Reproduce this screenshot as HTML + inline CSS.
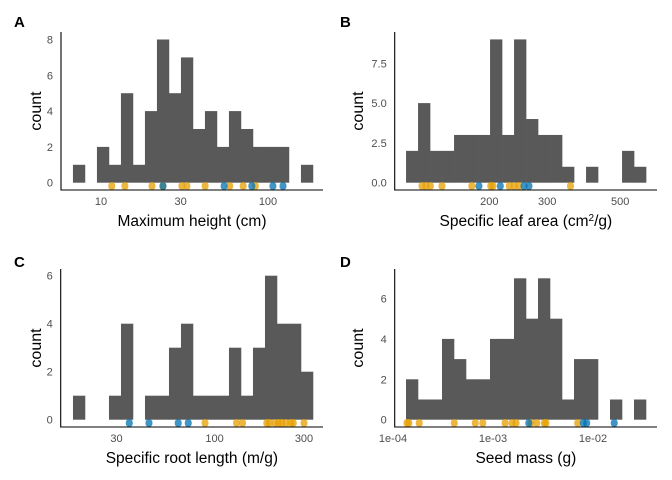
<!DOCTYPE html>
<html><head><meta charset="utf-8"><style>
body{margin:0;background:#fff}
svg{display:block;font-family:"Liberation Sans",sans-serif}
</style></head><body>
<svg id="fig" width="672" height="480" viewBox="0 0 672 480"></svg>
<script>
// Panel A: Maximum height
const countsA=[1,0,2,1,5,1,4,8,5,7,3,4,2,4,3,2,2,2,0,1];
const rugOrangeA=[11.6,13.9,20.2,23.5,30.5,32.7,42,59,71,84];
const rugBlueA=[23.5,54.6,80,107,123];
const yTicksA=[0,2,4,6,8];
const xTicksA=[10,30,100];
// Panel B: Specific leaf area
const countsB=[2,5,2,2,3,3,3,9,3,9,4,3,3,1,0,1,0,0,2,1];
const rugOrangeB=[124.9,128.4,132.4,143.6,177,202,205,230,238,246,353];
const rugBlueB=[186,216,255,264];
const yTicksB=[0,2.5,5,7.5];
const xTicksB=[200,300,500];
// Panel C: Specific root length
const countsC=[1,0,0,1,4,0,1,1,3,4,1,1,1,3,1,3,6,4,4,2];
const rugOrangeC=[89,131,141,190,196,210,219,228,240,255,263,300];
const rugBlueC=[35.1,44.7,64,72.4];
const yTicksC=[0,2,4,6];
const xTicksC=[30,100,300];
// Panel D: Seed mass
const countsD=[2,1,1,4,3,2,2,4,4,7,5,7,5,1,3,3,0,1,0,1];
const rugOrangeD=[1.38e-4,1.44e-4,1.83e-4,4.1e-4,6.65e-4,7.9e-4,1.32e-3,1.55e-3,1.7e-3,2.4e-3,2.74e-3,3.26e-3,3.39e-3,7.03e-3];
const rugBlueD=[2.28e-3,8.0e-3,8.65e-3,0.0163];
const yTicksD=[0,2,4,6];
const xTicksD=[1e-4,1e-3,1e-2];
const xLabelsD=["1e-04","1e-03","1e-02"];

const NS="http://www.w3.org/2000/svg";
const fig=document.getElementById('fig');
function mk(tag,attrs,parent,text){const e=document.createElementNS(NS,tag);for(const k in attrs)e.setAttribute(k,attrs[k]);if(text!==undefined)e.textContent=text;(parent||fig).appendChild(e);return e;}

function panel(cfg){
  const g=mk('g',{});
  
  
  const sx=v=>cfg.refX+(Math.log10(v)-Math.log10(cfg.refV))*cfg.pxDec;
  const sy=c=>cfg.y0-c*cfg.pxUnit;
  const bw=cfg.binW;
  cfg.counts.forEach((c,i)=>{
    if(c<=0)return;
    const l0=cfg.binStart+i*bw;
    const x1=sx(Math.pow(10,l0)), x2=sx(Math.pow(10,l0+bw));
    const r=mk('rect',{x:x1,y:sy(c),width:x2-x1+0.3,height:sy(0)-sy(c),fill:'#595959'},g);
    
    
  });
  const rug=(arr,col)=>arr.forEach(v=>{
    const r=mk('rect',{x:sx(v)-3.5,y:cfg.axisY-8,width:7,height:8,rx:3.5,fill:col,'fill-opacity':0.75},g);
    
    
  });
  rug(cfg.rugO,'#E69F00');
  rug(cfg.rugB,'#0072B2');
  const ya=mk('line',{x1:cfg.axX,x2:cfg.axX,y1:cfg.top,y2:cfg.axisY+0.5,stroke:'#000','stroke-width':1.1},g);
  
  
  const xa=mk('line',{x1:cfg.axX,x2:cfg.right,y1:cfg.axisY,y2:cfg.axisY,stroke:'#000','stroke-width':1.1},g);
  
  
  cfg.yTicks.forEach(t=>{
    const tx=mk('text',{x:cfg.axX-8,y:sy(t)+4,'text-anchor':'end','font-size':11,fill:'#4d4d4d'},g,cfg.yFmt(t));
    
    
  });
  cfg.xTicks.forEach((t,i)=>{
    const tx=mk('text',{x:sx(t),y:cfg.axisY+15,'text-anchor':'middle','font-size':11,fill:'#4d4d4d'},g,cfg.xLab?cfg.xLab[i]:String(t));
    
    
  });
  const yt=mk('text',{x:0,y:0,transform:`translate(${cfg.yTitleX},${(cfg.top+cfg.axisY)/2}) rotate(-90)`,'text-anchor':'middle','font-size':16,fill:'#000'},g,'count');
  
  
  const xt=mk('text',{x:(cfg.axX+cfg.right)/2,y:cfg.axisY+36,'text-anchor':'middle','font-size':15.5,fill:'#000'},g);
  xt.innerHTML=cfg.xTitle;
  
  
  const pl=mk('text',{x:cfg.lx,y:cfg.ly,'font-size':15,'font-weight':'bold',fill:'#000'},g,cfg.id);
  
  
}
const int=t=>String(t), dec=t=>t.toFixed(1);
panel({id:'A',counts:countsA,rugO:rugOrangeA,rugB:rugBlueA,yTicks:yTicksA,xTicks:xTicksA,yFmt:int,
  refX:101,refV:10,pxDec:167,binStart:0.832,binW:12/167,y0:182.7,pxUnit:17.9,axisY:190,axX:61,top:32,right:323,yTitleX:41,
  xTitle:'Maximum height (cm)',lx:14,ly:27});
panel({id:'B',counts:countsB,rugO:rugOrangeB,rugB:rugBlueB,yTicks:yTicksB,xTicks:xTicksB,yFmt:dec,
  refX:489.3,refV:200,pxDec:329,binStart:2.048,binW:12/329,y0:182.7,pxUnit:15.92,axisY:190,axX:394.7,top:32,right:657,yTitleX:363,
  xTitle:'Specific leaf area (cm<tspan dy="-5" font-size="10">2</tspan><tspan dy="5">/g)</tspan>',lx:340,ly:27});
panel({id:'C',counts:countsC,rugO:rugOrangeC,rugB:rugBlueC,yTicks:yTicksC,xTicks:xTicksC,yFmt:int,
  refX:116.5,refV:30,pxDec:187.5,binStart:1.245,binW:12/187.5,y0:419.7,pxUnit:24,axisY:427,axX:60.7,top:269,right:323,yTitleX:41,
  xTitle:'Specific root length (m/g)',lx:14,ly:267});
panel({id:'D',counts:countsD,rugO:rugOrangeD,rugB:rugBlueD,yTicks:yTicksD,xTicks:xTicksD,xLab:xLabelsD,yFmt:int,
  refX:393,refV:1e-4,pxDec:100,binStart:-3.87,binW:0.12,y0:419.7,pxUnit:20.2,axisY:427,axX:394.7,top:269,right:657,yTitleX:363,
  xTitle:'Seed mass (g)',lx:340,ly:267});
</script>
</body></html>
